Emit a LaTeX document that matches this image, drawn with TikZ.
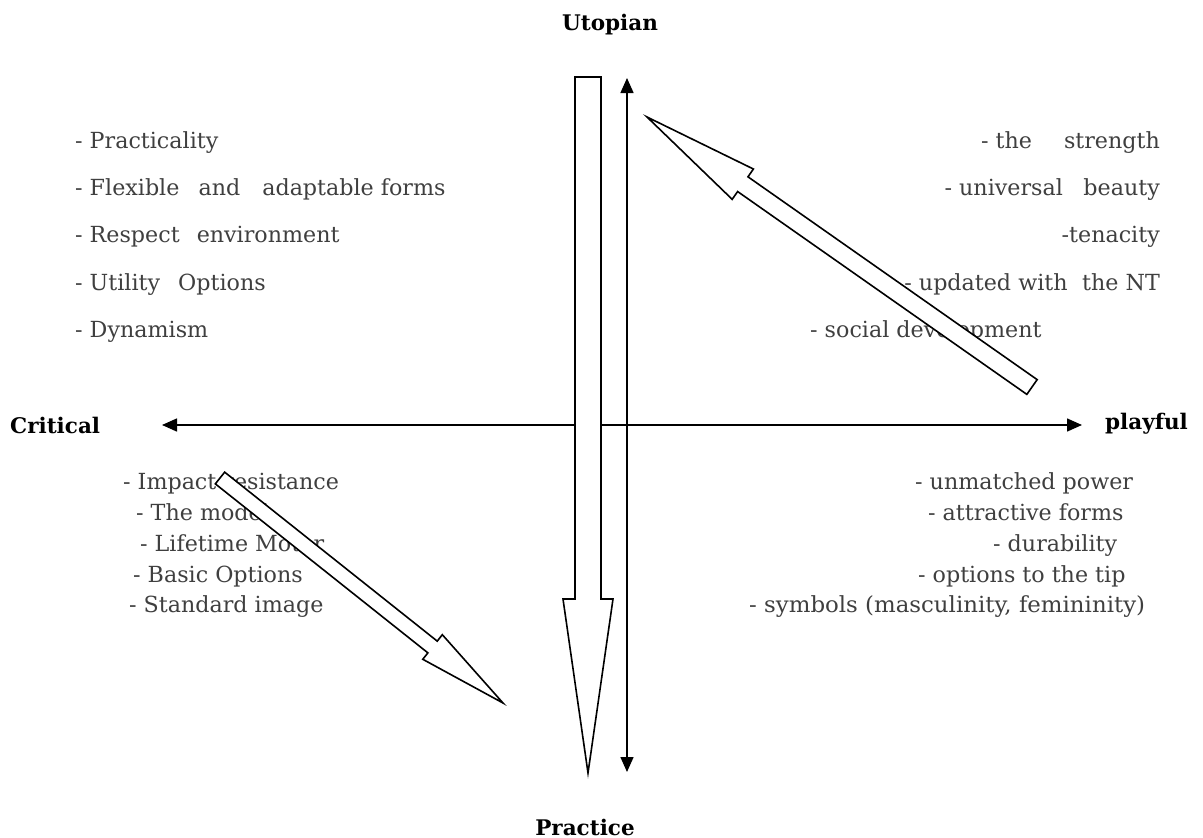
\documentclass[tikz,border=0pt]{standalone}
\usepackage{fontspec}
\setmainfont{DejaVu Serif}
\usetikzlibrary{arrows.meta,calc}
\definecolor{txt}{HTML}{3F3F3F}
\tikzset{
  item/.style={font=\fontsize{22.2}{26}\selectfont, text=txt, inner sep=0pt},
  itemW/.style={item, anchor=base west},
  itemE/.style={item, anchor=base east},
  lbl/.style={font=\fontsize{21.5}{26}\selectfont\bfseries, inner sep=0pt},
  axisline/.style={line width=1.5pt, {Triangle[length=15pt,width=13pt]}-{Triangle[length=15pt,width=13pt]}},
  blk/.style={draw=black, fill=white, line width=1.6pt, line join=miter},
}
\newcommand\blockarrow[5]{%
  \coordinate (ba-b) at ($(#2)!#5!(#1)$);
  \draw[blk] ($(#1)!#3!90:(#2)$) -- ($(ba-b)!#3!90:(#2)$) -- ($(ba-b)!#4!90:(#2)$)
    -- (#2) -- ($(ba-b)!#4!-90:(#2)$) -- ($(ba-b)!#3!-90:(#2)$) -- ($(#1)!#3!-90:(#2)$) -- cycle;
}
\begin{document}
\begin{tikzpicture}[x=1pt,y=-1pt]
\useasboundingbox (0,0) rectangle (1203,838);

% labels
\node[lbl, anchor=base] (utopian) at (610,30) {Utopian};
\node[lbl, anchor=base] (practice) at (585,835) {Practice};
\node[lbl, anchor=base west] (critical) at (10,433) {Critical};
\node[lbl, anchor=base west] (playful) at (1105,429) {playful};

% top-left list
\node[itemW] (tl1) at (75,148.5) {- Practicality};
\node[itemW] (tl2) at (75,195.5) {- Flexible\hspace{12pt} and\hspace{15pt} adaptable forms};
\node[itemW] (tl3) at (75,242.5) {- Respect\hspace{10pt} environment};
\node[itemW] (tl4) at (75,290) {- Utility\hspace{11pt} Options};
\node[itemW] (tl5) at (75,337) {- Dynamism};

% top-right list
\node[itemE] (tr1) at (1160,148.5) {- the\hspace{25pt} strength};
\node[itemE] (tr2) at (1160,195.5) {- universal\hspace{13.5pt} beauty};
\node[itemE] (tr3) at (1160,242.5) {-tenacity};
\node[itemE] (tr4) at (1160,290) {- updated with\hspace{7.5pt} the NT};
\node[itemW] (tr5) at (810,337) {- social development};

% bottom-left list
\node[itemW] (bl1) at (123,489) {- Impact resistance};
\node[itemW] (bl2) at (136,520) {- The model};
\node[itemW] (bl3) at (140,551) {- Lifetime Motor};
\node[itemW] (bl4) at (133,582) {- Basic Options};
\node[itemW] (bl5) at (129,612) {- Standard image};

% bottom-right list
\node[itemW] (br1) at (915,489) {- unmatched power};
\node[itemW] (br2) at (928,520) {- attractive forms};
\node[itemW] (br3) at (993,551) {- durability};
\node[itemW] (br4) at (918,582) {- options to the tip};
\node[itemW] (br5) at (749,612) {\scalebox{1.03}[1]{- symbols (masculinity, femininity)}};

% axes
\coordinate (axl) at (162,425);
\coordinate (axr) at (1082,425);
\coordinate (axt) at (627,78);
\coordinate (axb) at (627,772);
\draw[axisline] (axl) -- (axr);
\draw[axisline] (axt) -- (axb);

% block arrows
\coordinate (vT) at (588,77);
\coordinate (vH) at (588,773);
\blockarrow{vT}{vH}{13pt}{25pt}{174pt}
\coordinate (urT) at (1032,387);
\coordinate (urH) at (647,117);
\blockarrow{urT}{urH}{9pt}{18.5pt}{117pt}
\coordinate (llT) at (220,478);
\coordinate (llH) at (503,703);
\blockarrow{llT}{llH}{7.5pt}{15.7pt}{90pt}
\end{tikzpicture}
\end{document}
